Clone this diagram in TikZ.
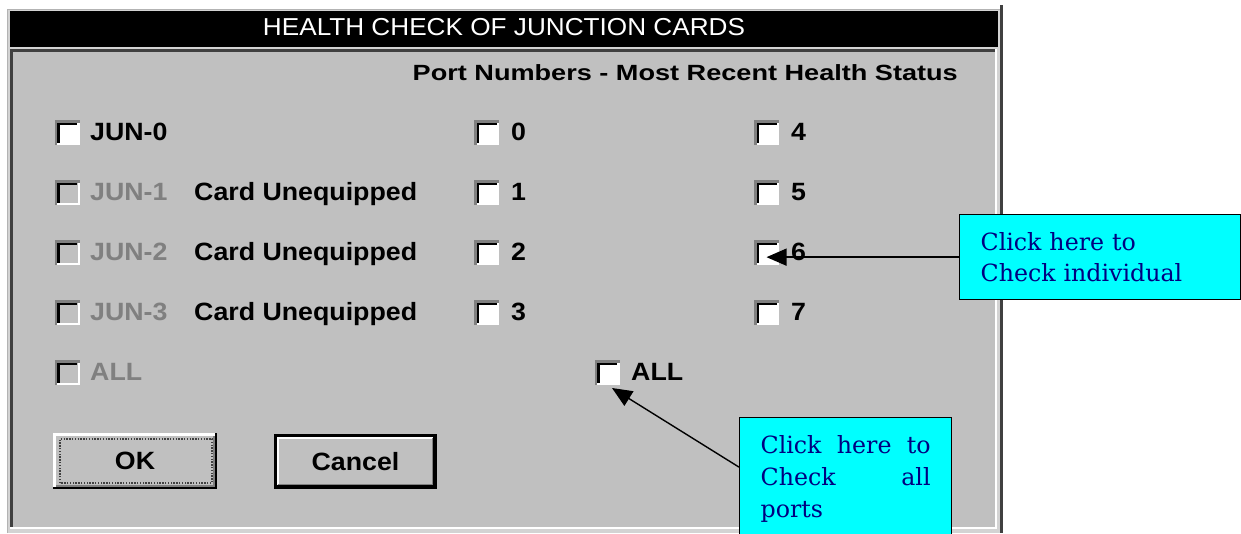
\documentclass[tikz,border=0pt]{standalone}
\usepackage{fontspec}
\usepackage{graphicx}
\usetikzlibrary{arrows.meta}
\newfontfamily\uibold{Liberation Sans Bold}[FakeStretch=1.07]
\newfontfamily\uititle{Liberation Sans}
\newfontfamily\notefont{DejaVu Serif}
\definecolor{wingray}{HTML}{C0C0C0}
\definecolor{shadegray}{HTML}{808080}
\definecolor{framedark}{HTML}{404040}
\definecolor{notecyan}{HTML}{00FFFF}
\definecolor{notenavy}{HTML}{000080}
\tikzset{
  lbl/.style={anchor=base west, inner sep=0pt, font=\uibold\fontsize{25}{29}\selectfont},
  dislbl/.style={lbl, text=shadegray},
  chk/.style={minimum size=25pt, inner sep=0pt, outer sep=0pt, fill=white},
  chkdis/.style={chk, fill=wingray},
  btn/.style={inner sep=0pt, outer sep=0pt, fill=wingray, font=\uibold\fontsize{25}{29}\selectfont},
  note/.style={draw=black, line width=1.3pt, fill=notecyan, text=notenavy,
    font=\notefont\fontsize{23.7}{31}\selectfont, align=left, anchor=north west},
  arr/.style={line width=1.4pt, -{Triangle[length=20pt,width=17pt]}},
}
\newcommand{\mkchk}[4][chk]{%
  \node[#1] (#2) at (#3,#4) {};
  \draw[shadegray,line width=2.5pt] ([shift={(1.25pt,0pt)}]#2.south west) |- ([shift={(0pt,-1.25pt)}]#2.north east);
  \draw[black,line width=2.5pt] ([shift={(3.75pt,2.5pt)}]#2.south west) |- ([shift={(-2.5pt,-3.75pt)}]#2.north east);}
\newcommand{\mkdischk}[3]{%
  \mkchk[chkdis]{#1}{#2}{#3}%
  \draw[white,line width=2pt] ([shift={(2.5pt,1pt)}]#1.south west) -| ([shift={(-1pt,-2.5pt)}]#1.north east);}
\begin{document}
\begin{tikzpicture}[x=1pt,y=-1pt]
\useasboundingbox (0,0) rectangle (1241,533);
\clip (0,0) rectangle (1241,533);
\fill[white] (0,0) rectangle (1241,533);
% window frame
\fill[wingray!70!white] (7,9) rectangle (1003,533);
\draw[shadegray!60!white,line width=1pt] (7.5,533) -- (7.5,9.5) -- (1000,9.5);
\draw[framedark,line width=2.5pt] (1001.5,5) -- (1001.5,533);
% title bar
\fill[black] (10,11) rectangle (998,47);
\node[anchor=base, inner sep=0pt, text=white, font=\uititle\fontsize{24.5}{29}\selectfont] (title) at (504,35.5)
  {\resizebox{482pt}{\height}{HEALTH CHECK OF JUNCTION CARDS}};
% client area
\fill[wingray] (10,49) rectangle (997,529);
\draw[framedark,line width=3pt] (11.5,529) |- (997,50.5);
\draw[white,line width=2pt] (10,528) -| (996,49);
\node[anchor=base east, inner sep=0pt, font=\uibold\fontsize{22}{26}\selectfont] (hdr) at (958,80.5)
  {\resizebox{545pt}{\height}{Port Numbers - Most Recent Health Status}};
% left column
\mkchk{j0}{67}{132.5}
\node[lbl] (lj0) at (90,140.5) {JUN-0};
\mkdischk{j1}{67}{192.5}
\node[dislbl] (lj1) at (90,200.5) {JUN-1};
\node[lbl] (u1) at (194,200.5) {Card Unequipped};
\mkdischk{j2}{67}{252.5}
\node[dislbl] (lj2) at (90,260.5) {JUN-2};
\node[lbl] (u2) at (194,260.5) {Card Unequipped};
\mkdischk{j3}{67}{312.5}
\node[dislbl] (lj3) at (90,320.5) {JUN-3};
\node[lbl] (u3) at (194,320.5) {Card Unequipped};
\mkdischk{jall}{67}{372.5}
\node[dislbl] (ljall) at (90,380.5) {ALL};
% middle column
\mkchk{p0}{486.5}{132.5}
\node[lbl] (lp0) at (511,140.5) {0};
\mkchk{p1}{486.5}{192.5}
\node[lbl] (lp1) at (511,200.5) {1};
\mkchk{p2}{486.5}{252.5}
\node[lbl] (lp2) at (511,260.5) {2};
\mkchk{p3}{486.5}{312.5}
\node[lbl] (lp3) at (511,320.5) {3};
\mkchk{pall}{607}{372.5}
\node[lbl] (lpall) at (631,380.5) {ALL};
% right column
\mkchk{p4}{766.5}{132.5}
\node[lbl] (lp4) at (791,140.5) {4};
\mkchk{p5}{766.5}{192.5}
\node[lbl] (lp5) at (791,200.5) {5};
\mkchk{p6}{766.5}{252.5}
\node[lbl] (lp6) at (791,260.5) {6};
\mkchk{p7}{766.5}{312.5}
\node[lbl] (lp7) at (791,320.5) {7};
% OK button
\node[btn, minimum width=164pt, minimum height=56pt] (ok) at (135,461) {OK};
\draw[white,line width=2.5pt] ([shift={(1.25pt,0pt)}]ok.south west) |- ([shift={(0pt,-1.25pt)}]ok.north east);
\draw[black,line width=2.5pt] ([shift={(0pt,1.25pt)}]ok.south west) -| ([shift={(-1.25pt,0pt)}]ok.north east);
\draw[shadegray,line width=1.5pt] ([shift={(3pt,3.25pt)}]ok.south west) -| ([shift={(-3.25pt,-3pt)}]ok.north east);
\draw[black!75,line width=1.3pt,dash pattern=on 1.4pt off 1.4pt] ([shift={(7pt,6pt)}]ok.south west) rectangle ([shift={(-5pt,-6pt)}]ok.north east);
% Cancel button
\node[btn, minimum width=163pt, minimum height=55pt] (cancel) at (355.5,461.5) {Cancel};
\draw[black,line width=2.5pt] ([shift={(1.25pt,1.25pt)}]cancel.south west) rectangle ([shift={(-1.25pt,-1.25pt)}]cancel.north east);
\draw[white,line width=2pt] ([shift={(3.5pt,4pt)}]cancel.south west) |- ([shift={(-4pt,-3.5pt)}]cancel.north east);
\draw[shadegray,line width=2pt] ([shift={(3.5pt,4pt)}]cancel.south west) -| ([shift={(-4pt,-3.5pt)}]cancel.north east);
\draw[black,line width=1.5pt] ([shift={(2.5pt,3.25pt)}]cancel.south west) -| ([shift={(-3.25pt,-2.5pt)}]cancel.north east);
% callouts
\node[note, inner xsep=21pt, inner ysep=0pt, minimum width=281pt, minimum height=85pt, text width=239pt] (call1) at (959,214)
  {Click here to\\Check individual};
\node[note, inner xsep=21pt, inner ysep=18pt, minimum width=212pt, text width=170pt, font=\notefont\fontsize{23.7}{32}\selectfont] (call2) at (739,417)
  {Click\hfill here\hfill to\\Check\hfill all\\ports};
% arrows
\draw[arr] (call1.west) -- (call1.west -| p6.center);
\coordinate (tipall) at ([shift={(-7.5pt,-3pt)}]pall.south east);
\draw[arr] ([yshift=12pt]call2.west) -- (tipall);
\end{tikzpicture}
\end{document}
